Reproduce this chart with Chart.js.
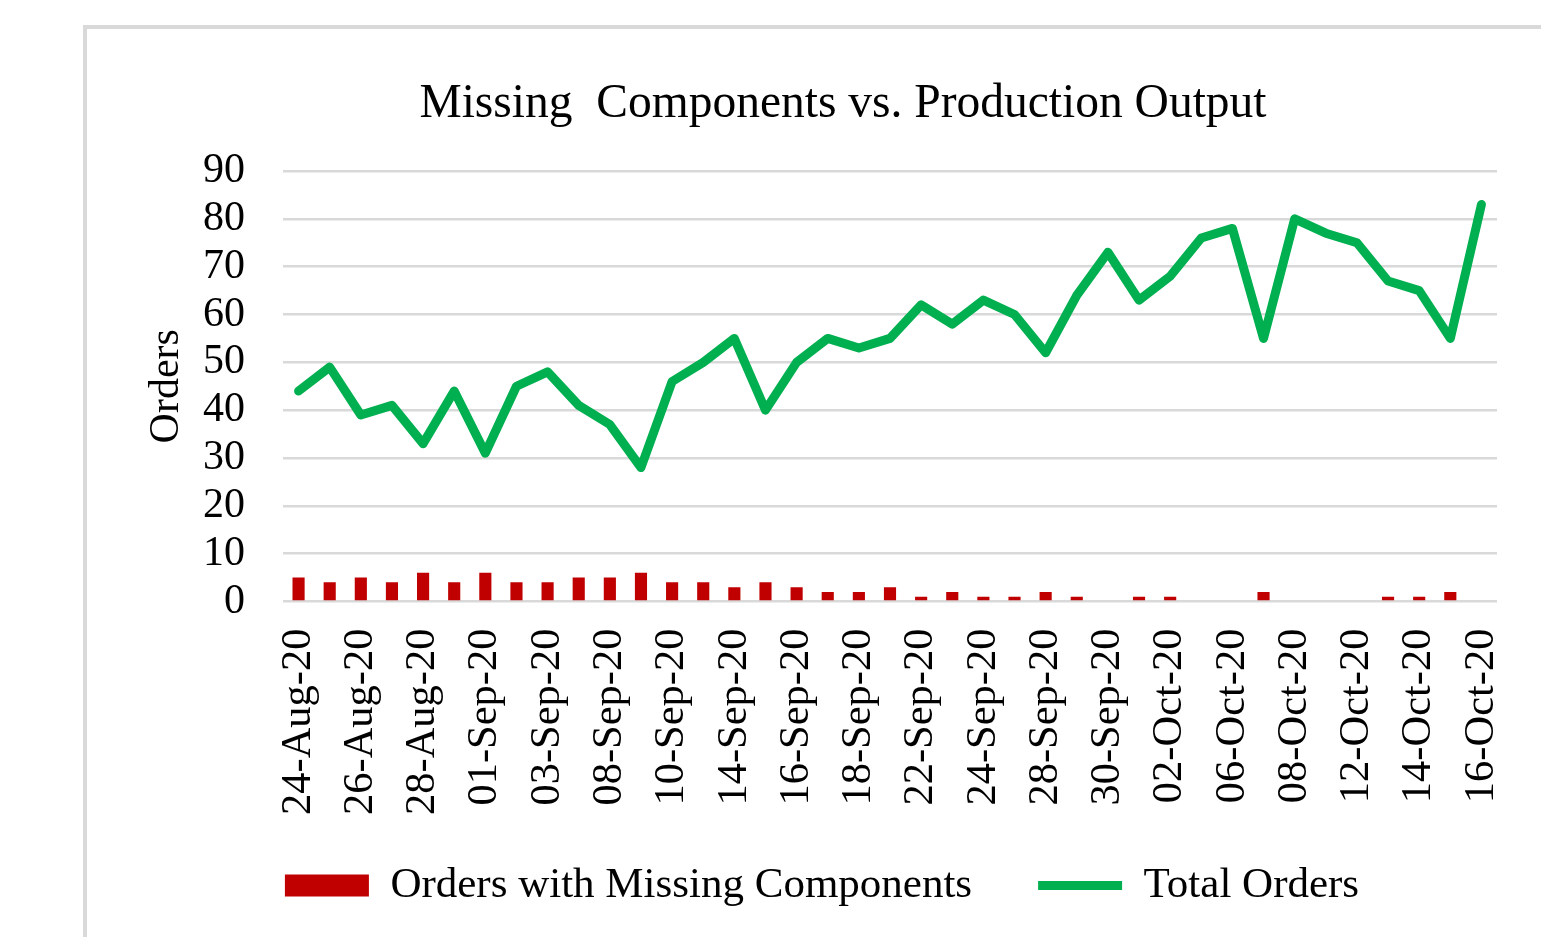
<!DOCTYPE html>
<html>
<head>
<meta charset="utf-8">
<script src="https://cdn.jsdelivr.net/npm/chart.js@4/dist/chart.umd.min.js"></script>
<style>
    body { margin: 0; background: #fff; overflow: hidden; }
    #frame { position: absolute; left: 83px; top: 25px; width: 1600px; height: 1000px; border: 4px solid #d9d9d9; }
    #wrap { position: absolute; left: 87px; top: 0; width: 1454px; height: 937px; }
</style>
</head>
<body>
<div id="frame"></div>
<div id="wrap"><canvas id="lineChart"></canvas></div>
<script>
var dates = ['24-Aug-20','25-Aug-20','26-Aug-20','27-Aug-20','28-Aug-20','31-Aug-20','01-Sep-20','02-Sep-20',
    '03-Sep-20','04-Sep-20','08-Sep-20','09-Sep-20','10-Sep-20','11-Sep-20','14-Sep-20','15-Sep-20','16-Sep-20',
    '17-Sep-20','18-Sep-20','21-Sep-20','22-Sep-20','23-Sep-20','24-Sep-20','25-Sep-20','28-Sep-20','29-Sep-20',
    '30-Sep-20','01-Oct-20','02-Oct-20','05-Oct-20','06-Oct-20','07-Oct-20','08-Oct-20','09-Oct-20','12-Oct-20',
    '13-Oct-20','14-Oct-20','15-Oct-20','16-Oct-20'];
var missing = [5,4,5,4,6,4,6,4,4,5,5,6,4,4,3,4,3,2,2,3,1,2,1,1,2,1,0,1,1,0,0,2,0,0,0,1,1,2,0];
var totalOrders = [44,49,39,41,33,44,31,45,48,41,37,28,46,50,55,40,50,55,53,55,62,58,63,60,52,64,73,63,68,76,78,55,80,77,75,67,65,55,83];

var serif = "'Liberation Serif', 'Times New Roman', serif";

// move title / legend centres to where they sit in the picture (canvas x)
var nudge = {
    id: 'nudge',
    afterLayout: function (chart) {
        var t = chart.titleBlock, l = chart.legend;
        var dt = 756 - (t.left + t.right) / 2;
        t.left += dt; t.right += dt;
        var dl = 735 - (l.left + l.right) / 2;
        l.left += dl; l.right += dl;
    }
};

const CHART = document.getElementById("lineChart");
var chart = new Chart(CHART, {
    type: 'bar',
    data: {
        labels: dates,
        datasets: [
            {
                type: 'bar',
                label: 'Orders with Missing Components',
                data: missing,
                backgroundColor: '#c00000',
                barPercentage: 0.39,
                categoryPercentage: 1
            },
            {
                type: 'line',
                label: 'Total Orders',
                data: totalOrders,
                borderColor: '#00b050',
                backgroundColor: '#00b050',
                borderWidth: 9,
                borderJoinStyle: 'round',
                borderCapStyle: 'round',
                tension: 0,
                pointRadius: 0
            }
        ]
    },
    options: {
        responsive: true,
        maintainAspectRatio: false,
        animation: false,
        layout: { padding: { left: 30, right: 44, top: 76, bottom: 20 } },
        plugins: {
            title: {
                display: true,
                text: 'Missing  Components vs. Production Output',
                color: '#000',
                font: { family: serif, size: 47.5, weight: 'normal' },
                padding: { top: 0, bottom: 38 }
            },
            legend: {
                position: 'bottom',
                labels: {
                    color: '#000',
                    font: { family: serif, size: 43 },
                    usePointStyle: true,
                    pointStyleWidth: 84,
                    boxHeight: 22,
                    padding: 66,
                    generateLabels: function (c) {
                        var items = Chart.defaults.plugins.legend.labels.generateLabels(c);
                        items.forEach(function (it) {
                            it.pointStyle = it.datasetIndex === 0 ? 'rect' : 'line';
                        });
                        return items;
                    }
                }
            },
            tooltip: { enabled: false }
        },
        scales: {
            x: {
                grid: { display: false, drawTicks: false },
                border: { display: false },
                ticks: {
                    autoSkip: false,
                    maxRotation: 90,
                    minRotation: 90,
                    padding: 27,
                    color: '#000',
                    font: { family: serif, size: 42.5 },
                    callback: function (v, i) { return i % 2 === 0 ? dates[i] : ''; }
                },
                afterFit: function (s) {
                    s.height = 196.5;
                    s.paddingLeft = 0;
                    s.paddingRight = 0;
                    s._computeLabelArea = function () {};   // labels run into the legend strip
                }
            },
            y: {
                min: 0,
                max: 90,
                grid: { color: '#d9d9d9', lineWidth: 2.5, drawTicks: false },
                border: { display: false },
                ticks: {
                    stepSize: 10,
                    autoSkip: false,
                    padding: 38,
                    color: '#000',
                    font: { family: serif, size: 42 }
                },
                title: {
                    display: true,
                    text: 'Orders',
                    color: '#000',
                    font: { family: serif, size: 42 },
                    padding: { top: 25, bottom: 0 }
                },
                afterFit: function (s) { s.width = 166; }
            }
        }
    },
    plugins: [nudge]
});
</script>
</body>
</html>
